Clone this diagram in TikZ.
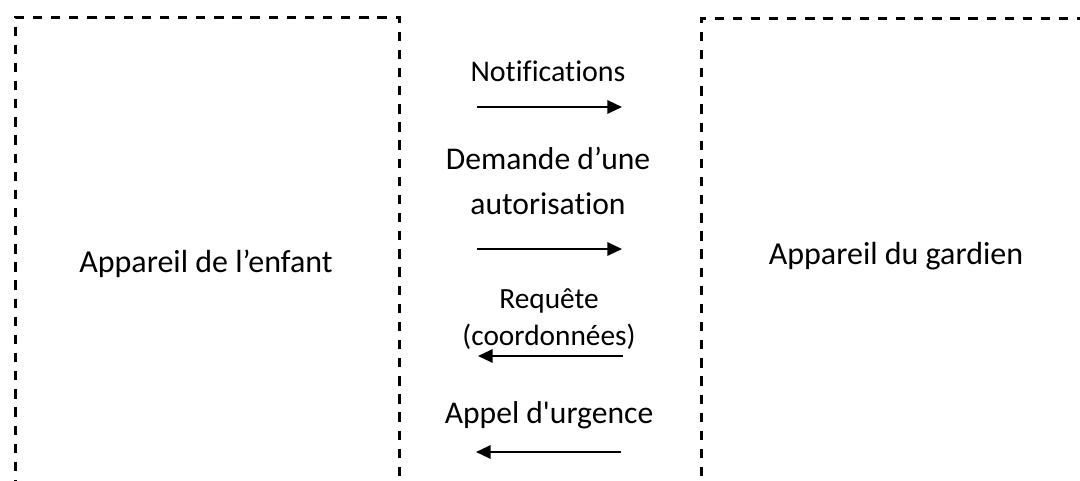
\documentclass[tikz,border=0pt]{standalone}
\usepackage{fontspec}
\setmainfont{Carlito}[Ligatures={TeXOff,NoCommon}]
\usetikzlibrary{arrows.meta}
\begin{document}
\begin{tikzpicture}[x=0.75pt, y=-0.75pt,
  devbox/.style={draw=black, line width=1.9pt, dash pattern=on 7pt off 6.6pt},
  lbl/.style={inner sep=0pt, anchor=base, align=center},
  msg/.style={line width=1.6pt, -{Triangle[length=11pt, width=10pt]}}]
  \useasboundingbox (0,0) rectangle (1080,481);
  \clip (0,0) rectangle (1080,481);

  % device frames (both run off the lower edge, the guardian's also off the right)
  \node[devbox, minimum width=288pt, minimum height=369pt, anchor=north west, inner sep=0pt] (child) at (14,16) {};
  \node[devbox, minimum width=300pt, minimum height=369pt, anchor=north west, inner sep=0pt] (guard) at (700,17) {};
  \node[lbl, font=\fontsize{24}{30}\selectfont] (childlbl) at (206,272) {Appareil de l’enfant};
  \node[lbl, font=\fontsize{24}{30}\selectfont] (guardlbl) at (896,264) {Appareil du gardien};

  % message labels (base anchor sits on the last line)
  \node[lbl, font=\fontsize{22.5}{30}\selectfont] (notif) at (548,82) {Notifications};
  \node[lbl, font=\fontsize{23.7}{33.5}\selectfont] (auth) at (548,214) {Demande d’une\\autorisation};
  \node[lbl, font=\fontsize{22}{27.75}\selectfont] (req) at (549,345) {Requête\\(coordonnées)};
  \node[lbl, font=\fontsize{23.7}{30}\selectfont] (sos) at (549,423) {Appel d'urgence};

  % message arrows
  \coordinate (a1s) at (477,107); \coordinate (a1e) at (622,107);
  \coordinate (a2s) at (477,249); \coordinate (a2e) at (622,249);
  \coordinate (a3s) at (623,356); \coordinate (a3e) at (478,356);
  \coordinate (a4s) at (621,452); \coordinate (a4e) at (476,452);
  \draw[msg] (a1s) -- (a1e);
  \draw[msg] (a2s) -- (a2e);
  \draw[msg] (a3s) -- (a3e);
  \draw[msg] (a4s) -- (a4e);
\end{tikzpicture}
\end{document}
